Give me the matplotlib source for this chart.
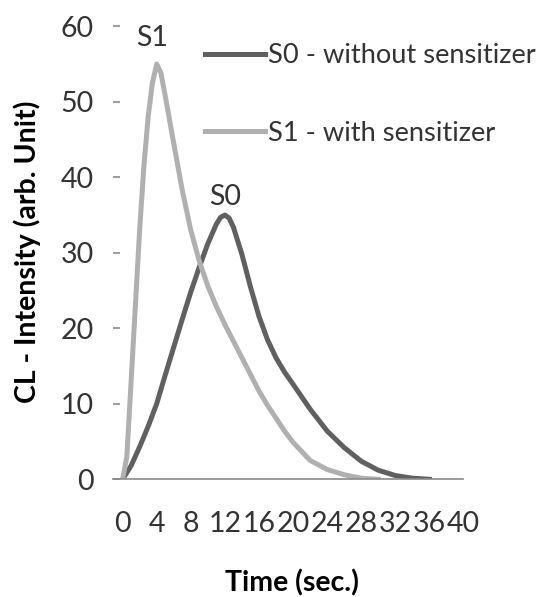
import matplotlib
matplotlib.use("Agg")
import matplotlib.pyplot as plt

plt.rcParams['font.family'] = ['Lato', 'DejaVu Sans']

# values
time_s0 = [0, 1, 2, 3, 4, 5, 6, 7, 8, 9, 10, 11, 11.5, 12, 12.5, 13, 14, 15, 16,
           17, 18, 19, 20, 22, 24, 26, 28, 30, 32, 34, 36]
cl_s0 = [0, 1.8, 4.3, 7, 10, 13.8, 17.5, 21.2, 24.8, 28.1, 31.2, 33.8, 34.7, 35, 34.6,
         33.4, 29.8, 25.5, 21.6, 18.5, 16.1, 14.2, 12.6, 9.3, 6.4, 4.2, 2.4, 1.2, 0.5,
         0.15, 0]

time_s1 = [0, 0.5, 1, 1.5, 2, 2.5, 3, 3.5, 4, 4.5, 5, 6, 7, 8, 9, 10, 11, 12, 13,
           14, 15, 16, 17, 18, 19, 20, 22, 24, 26, 28, 30]
cl_s1 = [0, 3, 13, 23, 33, 41.5, 48, 52.5, 55, 53.8, 50.8, 44.5, 38.3, 33, 28.9,
         25.6, 22.9, 20.5, 18.3, 16.1, 13.9, 11.7, 9.8, 8.1, 6.4, 4.9, 2.5, 1.3,
         0.6, 0.15, 0]

xtick_vals = [0, 4, 8, 12, 16, 20, 24, 28, 32, 36, 40]
xtick_marks = [4, 12, 20, 24, 28, 32, 36, 40]
ytick_vals = [0, 10, 20, 30, 40, 50, 60]

label_s0 = "S0 - without sensitizer"
label_s1 = "S1 - with sensitizer"

c_s0 = "#606060"
c_s1 = "#b0b0b0"
txt = "#333333"
fs = 20.5
fs_leg = 19.6

fig = plt.figure(figsize=(5.44, 5.97), dpi=100)
ax = fig.add_axes([113.3/544, 1-479.3/597, 350.2/544, 453/597])

ax.plot(time_s0, cl_s0, color=c_s0, lw=3.6, solid_joinstyle='round', label=label_s0)
ax.plot(time_s1, cl_s1, color=c_s1, lw=3.6, solid_joinstyle='round', label=label_s1)

ax.set_xlim(-1.09, 40)
ax.set_ylim(0, 60)

for s in ['top', 'right', 'left']:
    ax.spines[s].set_visible(False)
ax.spines['bottom'].set_color('#8a8a8a')
ax.spines['bottom'].set_linewidth(1.2)

ax.set_xticks(xtick_vals)
ax.set_xticklabels([str(v) for v in xtick_vals])
ax.set_xticks(xtick_marks, minor=True)
ax.tick_params(axis='x', which='major', length=0, pad=23, labelsize=fs, labelcolor=txt)
ax.tick_params(axis='x', which='minor', length=6, width=1.2, color='#8a8a8a', direction='out')

ax.set_yticks(ytick_vals)
ax.tick_params(axis='y', length=5, width=1.2, color='#8a8a8a', direction='in',
               pad=14, labelsize=fs, labelcolor=txt)

# peak labels
i0 = cl_s0.index(max(cl_s0))
i1 = cl_s1.index(max(cl_s1))
ax.annotate("S0", xy=(time_s0[i0], cl_s0[i0]), xytext=(0, 13), textcoords='offset points',
            ha='center', va='center', fontsize=fs, color=txt)
ax.annotate("S1", xy=(time_s1[i1], cl_s1[i1]), xytext=(-3, 19), textcoords='offset points',
            ha='center', va='center', fontsize=fs, color=txt)

ax.legend(loc='upper left', bbox_to_anchor=(205/544, 1-43.3/597), bbox_transform=fig.transFigure,
          frameon=False, fontsize=fs_leg, handlelength=2.2, handletextpad=0.12,
          labelspacing=1.93, borderpad=0, borderaxespad=0, labelcolor=txt)

fig.text(292/544, 1-583/597, "Time (sec.)", ha='center', va='center',
         fontsize=fs, fontweight='bold', color='black')
fig.text(27/544, 1-252/597, "CL - Intensity (arb. Unit)", ha='center', va='center',
         rotation=90, fontsize=fs, fontweight='bold', color='black')

fig.savefig("out.png", dpi=100)
